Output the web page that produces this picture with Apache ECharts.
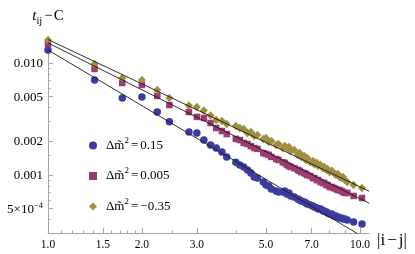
<!DOCTYPE html>
<html><head><meta charset="utf-8">
<script src="https://cdn.jsdelivr.net/npm/echarts@6/dist/echarts.min.js"></script>
<style>html,body{margin:0;padding:0;background:#fff}#c{width:415px;height:254px}</style>
</head><body><div id="c"></div>
<script>
// distance |i-j|
const distances = [1,1.41,1.73,2,2.24,2.45,2.83,3,3.16,3.32,3.46,3.61,3.74,4,4.12,4.24,4.36,4.47,4.58,4.69,4.9,5,5.1,5.2,5.39,5.48,5.66,5.74,5.83,5.92,6,6.16,6.32,6.4,6.48,6.63,6.71,6.78,6.93,7.07,7.14,7.28,7.35,7.48,7.62,7.68,7.81,7.87,8,8.12,8.25,8.37,8.49,8.6,8.72,8.83,8.94,9.11,9.54,10.15];
// t_ij - C for dm2 = 0.15
const valuesA = [0.01306,0.00705,0.00487,0.00497,0.00365,0.00298,0.00242,0.00237,0.00205,0.00185,0.00174,0.00160,0.00145,0.00130,0.00123,0.00118,0.00111,0.00104,0.000958,0.000938,0.000864,0.000814,0.000797,0.000750,0.000719,0.000705,0.000705,0.000719,0.000677,0.000691,0.000650,0.000636,0.000611,0.000598,0.000586,0.000574,0.000562,0.000551,0.000540,0.000528,0.000518,0.000507,0.000497,0.000497,0.000477,0.000477,0.000467,0.000458,0.000449,0.000449,0.000431,0.000431,0.000422,0.000413,0.000413,0.000405,0.000405,0.000397,0.000381,0.000365];
// dm2 = 0.005
const valuesB = [0.01478,0.00884,0.00663,0.00636,0.00508,0.00421,0.00365,0.00330,0.00323,0.00291,0.00263,0.00247,0.00232,0.00210,0.00205,0.00193,0.00189,0.00181,0.00174,0.00171,0.00157,0.00154,0.00151,0.00145,0.00139,0.00136,0.00130,0.00128,0.00123,0.00120,0.00118,0.00115,0.00111,0.00109,0.00106,0.00104,0.00102,0.000998,0.000978,0.000938,0.000938,0.000901,0.000901,0.000864,0.000848,0.000848,0.000814,0.000814,0.000781,0.000781,0.000765,0.000750,0.000734,0.000734,0.000719,0.000705,0.000691,0.000691,0.000650,0.000623];
// dm2 = -0.35
const valuesC = [0.01605,0.00980,0.00735,0.00705,0.00574,0.00487,0.00417,0.00404,0.00376,0.00340,0.00310,0.00304,0.00285,0.00274,0.00263,0.00257,0.00237,0.00242,0.00223,0.00227,0.00210,0.00214,0.00197,0.00201,0.00185,0.00189,0.00174,0.00181,0.00174,0.00178,0.00164,0.00167,0.00151,0.00157,0.00145,0.00148,0.00136,0.00142,0.00130,0.00133,0.00125,0.00128,0.00120,0.00123,0.00115,0.00118,0.00111,0.00113,0.00106,0.00109,0.00104,0.000998,0.00102,0.000958,0.000938,0.000958,0.000901,0.000864,0.000814,0.000765];
// power-law fit lines (endpoints)
const fitX = [1, 10.7];
const fitA = [0.01306, 0.000260];
const fitB = [0.01509, 0.000560];
const fitC = [0.0162, 0.000717];
const legendLabels = ['Δm̃²=0.15', 'Δm̃²=0.005', 'Δm̃²=−0.35'];
const xRange = [1, 10.69];
const yRange = [0.0003034, 0.01706];
const xTicks = [1.0, 1.5, 2.0, 3.0, 5.0, 7.0, 10.0];
const xTickLabels = ['1.0', '1.5', '2.0', '3.0', '5.0', '7.0', '10.0'];
const xMinorTicks = [1.1, 1.2, 1.3, 1.4, 1.6, 1.7, 1.8, 1.9, 2.5, 4, 6, 8, 9];
const yTicks = [0.0005, 0.001, 0.002, 0.005, 0.01];
const yTickLabels = ['5×10^−4', '0.001', '0.002', '0.005', '0.010'];
const yMinorTicks = [0.0003, 0.0004, 0.0006, 0.0007, 0.0008, 0.0009, 0.0015, 0.003, 0.004, 0.006, 0.007, 0.008, 0.009, 0.015];

const L = Math.log10;
const serif = "'Liberation Serif','Times New Roman',serif";
const gray = '#a6a6a6';
const colors = ['#3c3ca0', '#9c3b73', '#a08f3c'];
const symbols = ['circle', 'rect', 'diamond'];
const sizes = [7.5, 6.5, [8, 8.5]];

function pick(ticks, labels, v) {
  for (let i = 0; i < ticks.length; i++) if (Math.abs(L(ticks[i]) - v) < 1e-6) return labels[i];
  return '';
}
function yFmt(v) {
  const s = pick(yTicks, yTickLabels, v);
  if (s.indexOf('^') >= 0) { const p = s.split('^'); return '{n|' + p[0] + '}{s|' + p[1] + '}'; }
  return '{n|' + s + '}';
}
function legendFmt(name) {
  const p = name.split('=');
  const lhs = p[0].replace('²', '');
  return '{a|' + lhs + '}{s|2}{e|=}{a|' + p[1] + '}';
}
const chart = echarts.init(document.getElementById('c'), null, { renderer: 'canvas' });
const baseX = {
  type: 'value', gridIndex: 0, position: 'bottom', min: L(xRange[0]), max: L(xRange[1]),
  splitLine: { show: false }
};
const baseY = {
  type: 'value', gridIndex: 0, position: 'left', min: L(yRange[0]), max: L(yRange[1]),
  splitLine: { show: false }
};
const seriesVals = [valuesA, valuesB, valuesC];
const fits = [fitA, fitB, fitC];
const series = [];
seriesVals.forEach((vals, k) => {
  series.push({
    type: 'scatter', name: legendLabels[k], symbol: symbols[k], symbolSize: sizes[k],
    itemStyle: { color: colors[k], opacity: 1 }, z: 2 + k * 0.1,
    data: distances.map((d, i) => [L(d), L(vals[i])])
  });
});
fits.forEach((f, k) => {
  series.push({
    type: 'line', name: 'fit' + k, showSymbol: false, silent: true, clip: true, z: 5,
    lineStyle: { color: '#1a1a1a', width: 0.9 },
    data: fitX.map((d, i) => [L(d), L(f[i])])
  });
});
chart.setOption({
  animation: false,
  backgroundColor: '#fff',
  grid: { left: 48, right: 46, top: 37, bottom: 21 },
  xAxis: [
    Object.assign({}, baseX, {
      name: '{a||i}{m|−}{a|j|}', nameLocation: 'end', nameGap: 8,
      nameTextStyle: { fontFamily: serif, fontSize: 17, color: '#000', verticalAlign: 'middle', padding: [15, 0, 0, 0],
        rich: {
          a: { fontFamily: serif, fontSize: 17, color: '#000' },
          m: { fontFamily: serif, fontSize: 17, color: '#000', padding: [0, 2, 0, 2] }
        } },
      axisLine: { show: true, onZero: false, lineStyle: { color: gray, width: 1 } },
      axisTick: { show: true, inside: true, length: 5, lineStyle: { color: gray }, customValues: xTicks.map(L) },
      axisLabel: { show: true, customValues: xTicks.map(L), margin: 6, fontFamily: serif, fontSize: 11.5, color: '#000',
        formatter: v => pick(xTicks, xTickLabels, v), showMinLabel: true, showMaxLabel: true }
    }),
    Object.assign({}, baseX, {
      axisLine: { show: false, onZero: false },
      axisTick: { show: true, inside: true, length: 2.5, lineStyle: { color: gray }, customValues: xMinorTicks.map(L) },
      axisLabel: { show: false }
    })
  ],
  yAxis: [
    Object.assign({}, baseY, {
      name: '{t|t}{s|ij}{m|−}{n|C}', nameLocation: 'end', nameGap: 4,
      nameTextStyle: { fontFamily: serif, color: '#000', align: 'center',
        rich: {
          t: { fontFamily: serif, fontSize: 15, fontStyle: 'italic', height: 15, verticalAlign: 'top', color: '#000' },
          s: { fontFamily: serif, fontSize: 10.5, height: 24, verticalAlign: 'top', color: '#000' },
          m: { fontFamily: serif, fontSize: 15, height: 15, verticalAlign: 'top', color: '#000', padding: [0, 1, 0, 2] },
          n: { fontFamily: serif, fontSize: 15, height: 15, verticalAlign: 'top', color: '#000' }
        } },
      axisLine: { show: true, onZero: false, lineStyle: { color: gray, width: 1 } },
      axisTick: { show: true, inside: true, length: 5, lineStyle: { color: gray }, customValues: yTicks.map(L) },
      axisLabel: { show: true, customValues: yTicks.map(L), margin: 5, formatter: yFmt,
        rich: {
          n: { fontFamily: serif, fontSize: 13, lineHeight: 14, verticalAlign: 'bottom', color: '#000' },
          s: { fontFamily: serif, fontSize: 8.5, lineHeight: 8, verticalAlign: 'top', color: '#000' }
        } }
    }),
    Object.assign({}, baseY, {
      axisLine: { show: false, onZero: false },
      axisTick: { show: true, inside: true, length: 2.5, lineStyle: { color: gray }, customValues: yMinorTicks.map(L) },
      axisLabel: { show: false }
    })
  ],
  legend: {
    data: legendLabels.map((n, k) => ({ name: n, icon: symbols[k] })),
    left: 84, top: 131, orient: 'vertical', itemGap: 14.5, itemWidth: 8, itemHeight: 8,
    formatter: legendFmt,
    textStyle: { fontFamily: serif, fontSize: 13, color: '#000', padding: [0, 0, 0, 4],
      rich: {
        a: { fontFamily: serif, fontSize: 13, height: 16, verticalAlign: 'bottom', color: '#000' },
        s: { fontFamily: serif, fontSize: 9, height: 6, verticalAlign: 'top', color: '#000' },
        e: { fontFamily: serif, fontSize: 13, height: 16, verticalAlign: 'bottom', color: '#000', padding: [0, 2, 0, 2] }
      } },
    selectedMode: false
  },
  series: series
});
</script></body></html>
